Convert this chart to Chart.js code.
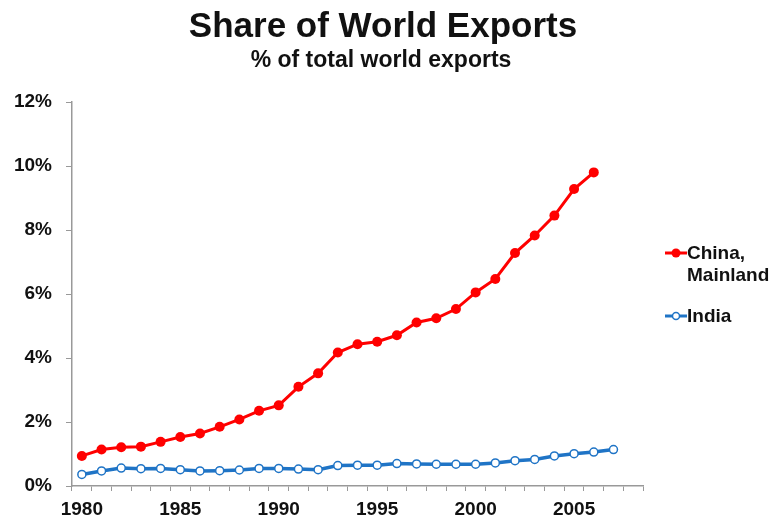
<!DOCTYPE html>
<html>
<head>
<meta charset="utf-8">
<script src="https://cdn.jsdelivr.net/npm/chart.js@4.4.0/dist/chart.umd.min.js"></script>
<style>
  body { margin: 0; background: #fff; }
  #wrap { width: 775px; height: 525px; }
</style>
</head>
<body>
<div id="wrap"><canvas id="chart" width="775" height="525"></canvas></div>
<script>
// years 1980..2008 (last slot left empty, as in the original)
var years = [];
for (var y = 1980; y <= 2008; y++) years.push(String(y));

// % of total world exports
var chinaShare = [0.94, 1.14, 1.21, 1.23, 1.38, 1.53, 1.64, 1.85, 2.08, 2.35,
                  2.52, 3.10, 3.52, 4.17, 4.43, 4.51, 4.71, 5.11, 5.24, 5.53,
                  6.05, 6.47, 7.28, 7.83, 8.45, 9.28, 9.80, null, null];
var indiaShare = [0.36, 0.47, 0.56, 0.54, 0.55, 0.51, 0.47, 0.48, 0.50, 0.55,
                  0.55, 0.53, 0.51, 0.64, 0.65, 0.65, 0.70, 0.69, 0.68, 0.68,
                  0.68, 0.72, 0.79, 0.83, 0.94, 1.01, 1.06, 1.14, null];
var yTicks = [0, 2, 4, 6, 8, 10, 12];
var labelYears = ['1980', '1985', '1990', '1995', '2000', '2005'];

const RED = '#ff0000';
const BLUE = '#1f74c6';
const FONT = '"Liberation Sans", Arial, sans-serif';

// titles + legend drawn by hand
const decorations = {
    id: 'decorations',
    afterDraw(chart) {
        const { ctx } = chart;
        ctx.save();
        ctx.fillStyle = '#111';
        ctx.textAlign = 'center';
        ctx.textBaseline = 'alphabetic';
        ctx.font = 'bold 35px ' + FONT;
        ctx.fillText('Share of World Exports', 383, 37);
        ctx.font = 'bold 23px ' + FONT;
        ctx.fillText('% of total world exports', 381, 67);

        // legend
        ctx.textAlign = 'left';
        ctx.textBaseline = 'middle';
        ctx.font = 'bold 19px ' + FONT;

        ctx.strokeStyle = RED;
        ctx.lineWidth = 3;
        ctx.beginPath(); ctx.moveTo(665, 253); ctx.lineTo(687, 253); ctx.stroke();
        ctx.fillStyle = RED;
        ctx.beginPath(); ctx.arc(676, 253, 4.5, 0, Math.PI * 2); ctx.fill();
        ctx.fillStyle = '#111';
        ctx.fillText('China,', 687, 254);
        ctx.fillText('Mainland', 687, 276);

        ctx.strokeStyle = BLUE;
        ctx.beginPath(); ctx.moveTo(665, 316); ctx.lineTo(687, 316); ctx.stroke();
        ctx.fillStyle = '#fff';
        ctx.lineWidth = 1.5;
        ctx.beginPath(); ctx.arc(676, 316, 3.5, 0, Math.PI * 2); ctx.fill(); ctx.stroke();
        ctx.fillStyle = '#111';
        ctx.fillText('India', 687, 317);
        ctx.restore();
    }
};

const config = {
    type: 'line',
    data: {
        labels: years,
        datasets: [{
            label: 'China, Mainland',
            data: chinaShare,
            borderColor: RED,
            backgroundColor: RED,
            borderWidth: 3,
            pointRadius: 5,
            pointBorderWidth: 0,
            pointBackgroundColor: RED,
            tension: 0
        }, {
            label: 'India',
            data: indiaShare,
            borderColor: BLUE,
            backgroundColor: '#fff',
            borderWidth: 3.5,
            pointRadius: 4,
            pointBorderWidth: 1.5,
            pointBorderColor: BLUE,
            pointBackgroundColor: '#fff',
            tension: 0
        }]
    },
    options: {
        responsive: false,
        animation: false,
        devicePixelRatio: 1,
        layout: { padding: { top: 102, right: 132, bottom: 0, left: 0 } },
        plugins: {
            legend: { display: false },
            tooltip: { enabled: false },
            title: { display: false }
        },
        scales: {
            x: {
                offset: true,
                grid: {
                    offset: true,
                    drawOnChartArea: false,
                    drawTicks: true,
                    tickLength: 5,
                    color: '#999'
                },
                border: { color: '#999', width: 1.5 },
                ticks: {
                    autoSkip: false,
                    maxRotation: 0,
                    padding: 7,
                    color: '#111',
                    font: { family: FONT, size: 19, weight: 'bold' },
                    callback: function (v) {
                        const l = this.getLabelForValue(v);
                        return labelYears.indexOf(l) >= 0 ? l : '';
                    }
                },
                afterFit: function (scale) { scale.height = 525 - 486; }
            },
            y: {
                min: yTicks[0],
                max: yTicks[yTicks.length - 1],
                grid: {
                    drawOnChartArea: false,
                    drawTicks: true,
                    tickLength: 6,
                    color: '#999'
                },
                border: { color: '#999', width: 1.5 },
                ticks: {
                    stepSize: 2,
                    padding: 14,
                    color: '#111',
                    font: { family: FONT, size: 19, weight: 'bold' },
                    callback: function (v) { return v + '%'; }
                },
                afterFit: function (scale) { scale.width = 72; }
            }
        }
    },
    plugins: [decorations]
};

new Chart(document.getElementById('chart').getContext('2d'), config);
</script>
</body>
</html>
